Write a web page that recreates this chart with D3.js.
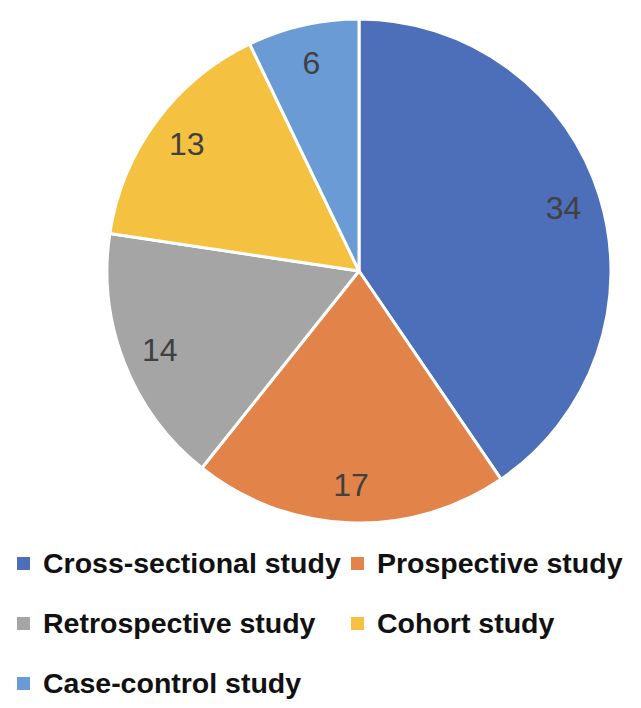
<!DOCTYPE html>
<html>
<head>
<meta charset="utf-8">
<script src="https://cdn.jsdelivr.net/npm/d3@7"></script>
<style>
  body { margin: 0; background: #fff; }
  svg { display: block; }
  .value { font-family: "Liberation Sans", Arial, sans-serif; font-size: 32px; fill: #404040; }
  .legend text { font-family: "Liberation Sans", Arial, sans-serif; font-size: 28.5px; font-weight: bold; fill: #111; }
</style>
</head>
<body>
<svg width="641" height="708"></svg>
<script>
const categories = ['Cross-sectional study', 'Prospective study', 'Retrospective study', 'Cohort study', 'Case-control study'];
const values = [34, 17, 14, 13, 6];
const colors = ['#4d6fba', '#e2844a', '#a5a5a5', '#f4c141', '#6a9bd4'];

const svg = d3.select('svg');

const cx = 359;
const cy = 271;
const radius = 252;

const data = categories.map((c, i) => ({ category: c, value: values[i], color: colors[i] }));

const pie = d3.pie()
    .value((d) => d.value)
    .sort(null);

const arc = d3.arc()
    .innerRadius(0)
    .outerRadius(radius);

const labelArc = d3.arc()
    .innerRadius(214)
    .outerRadius(214);

const chart = svg.append('g')
    .attr('transform', `translate(${cx}, ${cy})`);

const slices = chart.selectAll()
    .data(pie(data))
    .enter()
    .append('g');

slices.append('path')
    .attr('d', arc)
    .attr('fill', (d) => d.data.color)
    .attr('stroke', '#fff')
    .attr('stroke-width', 3)
    .attr('stroke-linejoin', 'round');

slices.append('text')
    .attr('class', 'value')
    .attr('transform', (d) => `translate(${labelArc.centroid(d)})`)
    .attr('text-anchor', 'middle')
    .attr('dy', '0.36em')
    .text((d) => d.data.value);

// legend, two columns
const colX = [17, 351];
const rowY = [573, 633, 693];
const box = 13;

const legend = svg.append('g')
    .attr('class', 'legend')
    .selectAll()
    .data(data)
    .enter()
    .append('g')
    .attr('transform', (d, i) => `translate(${colX[i % 2]}, ${rowY[Math.floor(i / 2)]})`);

legend.append('rect')
    .attr('x', 0)
    .attr('y', -16)
    .attr('width', box)
    .attr('height', box)
    .attr('fill', (d) => d.color);

legend.append('text')
    .attr('x', 26)
    .attr('y', 0)
    .text((d) => d.category);
</script>
</body>
</html>
